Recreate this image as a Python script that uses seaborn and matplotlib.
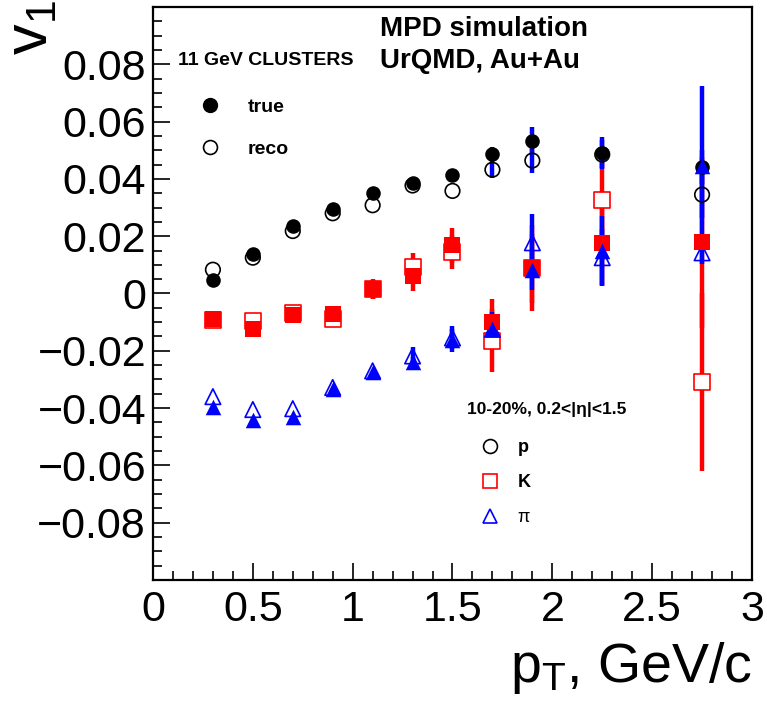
import numpy as np
import matplotlib
matplotlib.use("Agg")
import matplotlib.pyplot as plt
import seaborn as sns
from matplotlib.lines import Line2D
from matplotlib.ticker import MultipleLocator

# pT bins, GeV/c
pt = [0.3, 0.5, 0.7, 0.9, 1.1, 1.3, 1.5, 1.7, 1.9, 2.25, 2.75]

# protons
p_true = [0.0048, 0.0139, 0.0236, 0.0294, 0.0350, 0.0384, 0.0412, 0.0488, 0.0532, 0.0492, 0.0442]
p_reco = [0.0083, 0.0125, 0.0218, 0.0280, 0.0308, 0.0377, 0.0358, 0.0432, 0.0464, 0.0485, 0.0345]
p_true_err = [0, 0, 0, 0, 0, 0, 0, 0.0025, 0.005, 0.0055, 0.006]
p_reco_err = [0, 0, 0, 0, 0, 0, 0, 0.003, 0.0045, 0.005, 0.008]

# kaons
k_true = [-0.0088, -0.0125, -0.0075, -0.0073, 0.0014, 0.0060, 0.0168, -0.0100, 0.0090, 0.0175, 0.0178]
k_reco = [-0.0093, -0.0097, -0.0068, -0.0088, 0.0015, 0.0092, 0.0145, -0.0165, 0.0088, 0.0326, -0.0310]
k_true_err = [0.001, 0.001, 0.001, 0.001, 0.0033, 0.005, 0.006, 0.008, 0.015, 0.015, 0.03]
k_reco_err = [0.001, 0.001, 0.001, 0.001, 0.0035, 0.005, 0.006, 0.011, 0.012, 0.015, 0.031]

# pions
pi_true = [-0.0395, -0.0440, -0.0430, -0.0333, -0.0274, -0.0240, -0.0163, -0.0125, 0.0083, 0.0150, 0.0445]
pi_reco = [-0.0360, -0.0405, -0.0402, -0.0328, -0.0270, -0.0218, -0.0155, -0.0125, 0.0177, 0.0125, 0.0142]
pi_true_err = [0, 0, 0, 0, 0, 0.002, 0.004, 0.006, 0.007, 0.012, 0.028]
pi_reco_err = [0, 0, 0, 0, 0, 0.003, 0.004, 0.005, 0.010, 0.010, 0.004]

RED = "#ff0000"
BLUE = "#0000ff"

sns.set_theme(style="ticks")
plt.rcParams["font.family"] = ["Liberation Sans", "DejaVu Sans"]
plt.rcParams["mathtext.default"] = "regular"
for key in ["text.color", "axes.labelcolor", "xtick.color", "ytick.color", "axes.edgecolor"]:
    plt.rcParams[key] = "black"

fig = plt.figure(figsize=(7.67, 7.12), dpi=100)
ax = fig.add_axes([0.1995, 0.1854, 0.7809, 0.8048])

# error bars (ROOT-style, thick, no caps)
ebar = dict(fmt="none", elinewidth=3.2, capsize=0)
ax.errorbar(pt, k_reco, yerr=k_reco_err, ecolor=RED, zorder=1.5, **ebar)
ax.errorbar(pt, k_true, yerr=k_true_err, ecolor=RED, zorder=1.5, **ebar)
ax.errorbar(pt, p_reco, yerr=p_reco_err, ecolor=BLUE, zorder=1.8, **ebar)
ax.errorbar(pt, p_true, yerr=p_true_err, ecolor=BLUE, zorder=1.8, **ebar)
ax.errorbar(pt, pi_reco, yerr=pi_reco_err, ecolor=BLUE, zorder=1.9, **ebar)
ax.errorbar(pt, pi_true, yerr=pi_true_err, ecolor=BLUE, zorder=1.9, **ebar)

# open markers (reco)
sns.scatterplot(x=pt, y=p_reco, marker="o", s=110, facecolor="none",
                edgecolor="black", linewidth=1.2, ax=ax, zorder=3)
sns.scatterplot(x=pt, y=k_reco, marker="s", s=120, facecolor="white",
                edgecolor=RED, linewidth=1.2, ax=ax, zorder=3.1)
sns.scatterplot(x=pt, y=pi_reco, marker="^", s=125, facecolor="none",
                edgecolor=BLUE, linewidth=1.2, ax=ax, zorder=3.2)

# filled markers (true)
sns.scatterplot(x=pt, y=k_true, marker="s", s=120, color=RED,
                edgecolor=RED, linewidth=0, ax=ax, zorder=4)
sns.scatterplot(x=pt, y=p_true, marker="o", s=110, color="black",
                edgecolor="black", linewidth=0, ax=ax, zorder=4.1)
sns.scatterplot(x=pt, y=pi_true, marker="^", s=125, color=BLUE,
                edgecolor=BLUE, linewidth=0, ax=ax, zorder=4.2)

# axes
ax.set_xlim(0, 3)
ax.set_ylim(-0.1, 0.1)
xt = [0, 0.5, 1, 1.5, 2, 2.5, 3]
ax.set_xticks(xt)
ax.set_xticklabels(["%g" % v for v in xt])
yt = [-0.08, -0.06, -0.04, -0.02, 0, 0.02, 0.04, 0.06, 0.08]
ax.set_yticks(yt)
ax.set_yticklabels([("%g" % v).replace("-", "\u2212") for v in yt])
ax.xaxis.set_minor_locator(MultipleLocator(0.1))
ax.yaxis.set_minor_locator(MultipleLocator(0.005))
ax.tick_params(which="major", direction="in", length=12, width=1.2,
               labelsize=31, colors="black", pad=5)
ax.tick_params(which="minor", direction="in", length=6.5, width=1.2)
ax.tick_params(axis="x", which="major", pad=7)
for s in ax.spines.values():
    s.set_linewidth(1.6)
    s.set_color("black")

ax.set_xlabel(r"$p_T$, GeV/c", fontsize=40, loc="right")
ax.xaxis.set_label_coords(1.0, -0.104)
ax.set_ylabel(r"$v_1$", fontsize=44, loc="top")
ax.yaxis.set_label_coords(-0.155, 1.012)

# header text
ax.text(0.379, 0.985, "MPD simulation", transform=ax.transAxes, fontsize=20,
        fontweight="bold", ha="left", va="top")
ax.text(0.379, 0.928, "UrQMD, Au+Au", transform=ax.transAxes, fontsize=20,
        fontweight="bold", ha="left", va="top")
ax.text(0.042, 0.906, "11 GeV CLUSTERS", transform=ax.transAxes, fontsize=14,
        fontweight="bold", ha="left", va="center")

# legend: true / reco
h1 = [Line2D([], [], ls="none", marker="o", ms=10, color="black"),
      Line2D([], [], ls="none", marker="o", ms=10, mfc="none", mec="black", mew=1.2)]
leg1 = ax.legend(h1, ["true", "reco"], loc="upper left", bbox_to_anchor=(0.062, 0.858),
                 frameon=False, prop={"size": 14, "weight": "bold"},
                 handlelength=1.0, handletextpad=1.45, labelspacing=1.25, borderpad=0)
ax.add_artist(leg1)

# legend: species
ax.text(0.525, 0.297, "10-20%, 0.2<|η|<1.5", transform=ax.transAxes, fontsize=12.5,
        fontweight="bold", ha="left", va="center")
h2 = [Line2D([], [], ls="none", marker="o", ms=10, mfc="none", mec="black", mew=1.2),
      Line2D([], [], ls="none", marker="s", ms=10, mfc="none", mec=RED, mew=1.2),
      Line2D([], [], ls="none", marker="^", ms=10.5, mfc="none", mec=BLUE, mew=1.2)]
leg2 = ax.legend(h2, ["p", "K", "π"], loc="upper left", bbox_to_anchor=(0.533, 0.262),
                 frameon=False, prop={"size": 13, "weight": "bold"},
                 handlelength=1.0, handletextpad=1.0, labelspacing=1.0, borderpad=0)
leg2.get_texts()[2].set_fontweight("normal")

fig.savefig("out.png", dpi=100)
